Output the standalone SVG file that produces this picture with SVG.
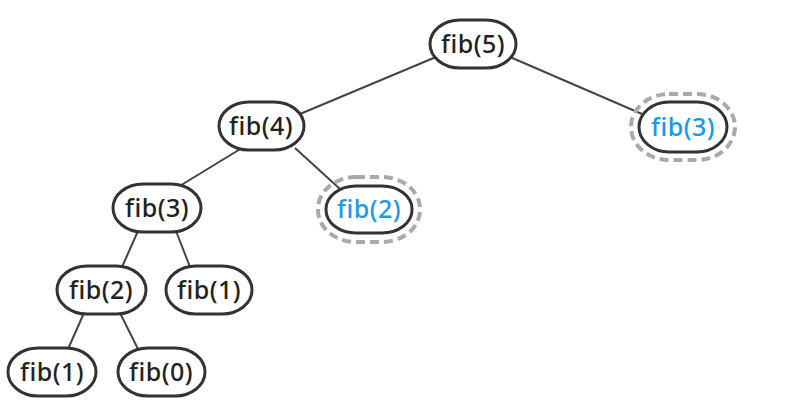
<svg xmlns="http://www.w3.org/2000/svg" width="788" height="415" viewBox="0 0 788 415">
<style>
.n{fill:#fff;stroke:#333;stroke-width:3}
.h{fill:none;stroke:#aaa;stroke-width:4;stroke-dasharray:9 5}
.t{font-family:"Noto Sans","Open Sans",sans-serif;font-size:25px;font-weight:500;letter-spacing:0.5px;fill:#222;text-anchor:middle;dominant-baseline:central}
.b{fill:#1a9ae6}
.e{stroke:#444;stroke-width:2;fill:none}
</style>
<rect width="788" height="415" fill="#fff"/>
<g id="connectors">
<line class="e" x1="436" y1="57" x2="300" y2="114"/>
<line class="e" x1="510" y1="57" x2="642" y2="114"/>
<line class="e" x1="242" y1="148" x2="178" y2="187"/>
<line class="e" x1="295" y1="148" x2="340" y2="189"/>
<line class="e" x1="138" y1="231" x2="122" y2="267"/>
<line class="e" x1="176" y1="231" x2="190" y2="267"/>
<line class="e" x1="84" y1="313" x2="68" y2="349"/>
<line class="e" x1="120" y1="313" x2="138" y2="349"/>
</g>
<g id="fib5"><rect class="n" x="430" y="20" width="86" height="48" rx="30" ry="24"/><text class="t" x="473" y="43">fib(5)</text></g>
<g id="fib4"><rect class="n" x="219" y="102" width="85" height="48" rx="30" ry="24"/><text class="t" x="261" y="125">fib(4)</text></g>
<g id="fib3r"><rect class="h" x="631" y="94" width="104" height="66" rx="38" ry="33"/><rect class="n" x="639" y="102" width="88" height="50" rx="30" ry="25"/><text class="t b" x="683" y="126">fib(3)</text></g>
<g id="fib3"><rect class="n" x="113" y="184" width="88" height="48" rx="30" ry="24"/><text class="t" x="157" y="207">fib(3)</text></g>
<g id="fib2r"><rect class="h" x="318" y="177" width="102" height="65" rx="38" ry="32"/><rect class="n" x="326" y="186" width="86" height="47" rx="30" ry="23"/><text class="t b" x="369" y="208">fib(2)</text></g>
<g id="fib2"><rect class="n" x="57" y="266" width="89" height="48" rx="30" ry="24"/><text class="t" x="101" y="289">fib(2)</text></g>
<g id="fib1a"><rect class="n" x="166" y="266" width="86" height="48" rx="30" ry="24"/><text class="t" x="209" y="289">fib(1)</text></g>
<g id="fib1b"><rect class="n" x="8" y="348" width="88" height="48" rx="30" ry="24"/><text class="t" x="52" y="371">fib(1)</text></g>
<g id="fib0"><rect class="n" x="118" y="348" width="87" height="48" rx="30" ry="24"/><text class="t" x="161" y="371">fib(0)</text></g>
</svg>
